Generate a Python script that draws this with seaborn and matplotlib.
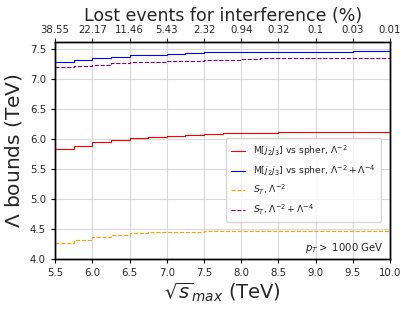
import numpy as np
import pandas as pd
import matplotlib
matplotlib.use("Agg")
import matplotlib.pyplot as plt
import seaborn as sns

sqrt_s_max = [5.5, 5.75, 6.0, 6.25, 6.5, 6.75, 7.0, 7.25, 7.5, 7.75, 8.0, 8.25,
              8.5, 8.75, 9.0, 9.25, 9.5, 9.75, 10.0]
mjj_lam2 = [5.836, 5.886, 5.953, 5.987, 6.013, 6.030, 6.053, 6.070, 6.087, 6.103, 6.103, 6.103,
            6.12, 6.12, 6.12, 6.12, 6.12, 6.12, 6.12]
mjj_lam24 = [7.289, 7.322, 7.356, 7.372, 7.406, 7.406, 7.422, 7.439, 7.456, 7.456, 7.456, 7.456,
             7.456, 7.456, 7.456, 7.456, 7.472, 7.472, 7.472]
st_lam2 = [4.267, 4.317, 4.367, 4.400, 4.434, 4.451, 4.451, 4.451, 4.467, 4.467, 4.467, 4.467,
           4.467, 4.467, 4.467, 4.467, 4.467, 4.467, 4.467]
st_lam24 = [7.205, 7.227, 7.239, 7.265, 7.289, 7.289, 7.305, 7.305, 7.322, 7.322, 7.339, 7.356,
            7.356, 7.356, 7.356, 7.356, 7.356, 7.356, 7.356]
top_ticks = [5.5, 6.0, 6.5, 7.0, 7.5, 8.0, 8.5, 9.0, 9.5, 10.0]
top_labels = ["38.55", "22.17", "11.46", "5.43", "2.32", "0.94", "0.32", "0.1", "0.03", "0.01"]

labels = [r"M[$j_2 j_3$] vs spher, $\Lambda^{-2}$",
          r"M[$j_2 j_3$] vs spher, $\Lambda^{-2}+\Lambda^{-4}$",
          r"$S_T$, $\Lambda^{-2}$",
          r"$S_T$, $\Lambda^{-2}+\Lambda^{-4}$"]
series = [mjj_lam2, mjj_lam24, st_lam2, st_lam24]
colors = ["red", "blue", "orange", "purple"]
styles = ["-", "-", "--", "--"]

sns.set_style("ticks")
plt.rcParams["font.family"] = ["DejaVu Sans"]

fig = plt.figure(figsize=(4.08, 3.12), dpi=100)
ax = fig.add_axes([0.135, 0.170, 0.821, 0.695])

for vals, lab, c, ls in zip(series, labels, colors, styles):
    df = pd.DataFrame({"x": sqrt_s_max, "y": vals})
    sns.lineplot(data=df, x="x", y="y", ax=ax, color=c, linestyle=ls,
                 drawstyle="steps-post", linewidth=0.8, label=lab)

ax.set_xlim(5.5, 10.0)
ax.set_ylim(4.0, 7.62)
ax.set_xticks(top_ticks)
ax.set_yticks([4.0, 4.5, 5.0, 5.5, 6.0, 6.5, 7.0, 7.5])
ax.grid(True, color="#d9d9d9", linewidth=0.8)
ax.tick_params(labelsize=7.3, length=3, width=0.8, color="black")
for s in ax.spines.values():
    s.set_color("black")
    s.set_linewidth(1.0)
ax.set_xlabel(r"$\sqrt{s}_{max}$ (TeV)", fontsize=14, labelpad=2)
ax.set_ylabel(r"$\Lambda$ bounds (TeV)", fontsize=14.5, labelpad=4)

leg = ax.legend(loc="lower right", bbox_to_anchor=(0.972, 0.17), borderaxespad=0,
                fontsize=6.7, frameon=True, labelspacing=0.55, handlelength=1.5,
                borderpad=0.6)
leg.get_frame().set_edgecolor("#cccccc")

ax.text(0.98, 0.02, r"$p_T >$ 1000 GeV", transform=ax.transAxes, ha="right",
        va="bottom", fontsize=7.3)

ax2 = ax.twiny()
ax2.set_xlim(ax.get_xlim())
ax2.set_xticks(top_ticks)
ax2.set_xticklabels(top_labels)
ax2.tick_params(labelsize=7.3, length=3, width=0.8, pad=2)
ax2.set_xlabel("Lost events for interference (%)", fontsize=12.5, labelpad=3)
for s in ax2.spines.values():
    s.set_color("black")
    s.set_linewidth(1.0)

fig.savefig("out.png", dpi=100)
